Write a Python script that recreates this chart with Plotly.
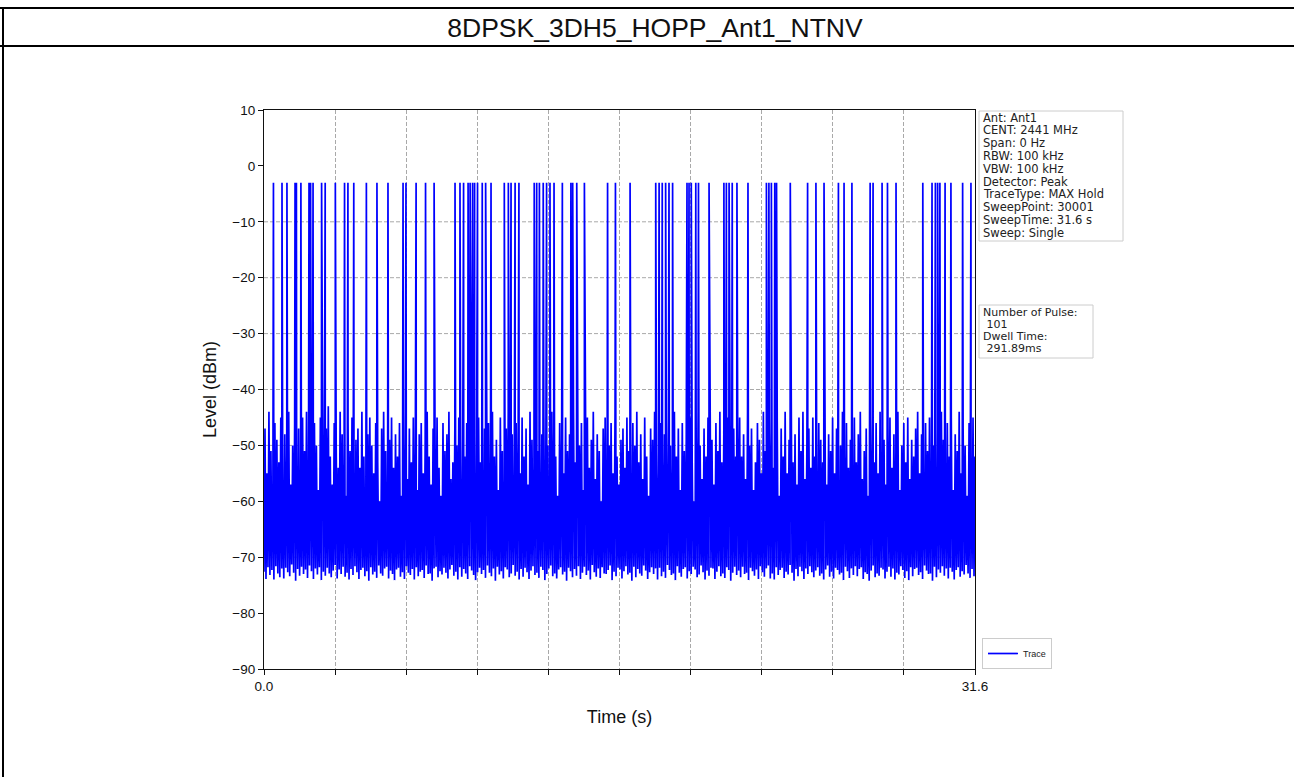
import numpy as np
import plotly.graph_objects as go

# ---------------- data ----------------
chart_title = "8DPSK_3DH5_HOPP_Ant1_NTNV"
sweep_time = 31.6

# times (s) of the hopping pulses that reach the top level
pulse_times = [0.42, 0.80, 1.02, 1.38, 1.44, 1.64, 2.00, 2.07, 2.18, 2.56,
               2.72, 3.17, 3.58, 3.73, 3.99, 4.55, 5.02, 5.51, 6.18, 6.31,
               6.76, 7.18, 7.56, 8.49, 8.71, 8.87, 9.07, 9.16, 9.27, 9.36,
               9.49, 9.70, 9.85, 10.09, 10.68, 10.86, 10.98, 11.16, 11.33, 12.01,
               12.12, 12.24, 12.41, 12.56, 12.71, 12.89, 13.26, 13.64, 13.72, 13.90,
               14.24, 15.27, 15.62, 16.27, 17.41, 17.56, 17.70, 17.85, 18.00, 18.16,
               18.80, 18.89, 18.99, 19.19, 19.31, 19.78, 20.44, 20.55, 20.67, 20.81,
               21.02, 21.51, 22.33, 22.44, 22.55, 22.70, 22.78, 23.39, 24.16, 24.53,
               24.89, 25.53, 25.78, 26.13, 26.94, 27.07, 27.47, 27.71, 28.09, 29.28,
               29.69, 29.84, 29.94, 30.04, 30.27, 30.53, 31.05, 31.42]
pulse_level = -3.0

# noise peaks (dBm) read across the sweep
noise_high = [
    -47, -55, -44, -51, -58, -46, -49, -53, -45, -60, -48, -52, -44, -57, -50, -46, -54, -47, -59, -45,
    -51, -44, -56, -48, -53, -46, -50, -58, -45, -49, -55, -47, -43, -52, -57, -46, -50, -54, -44, -48,
    -53, -59, -46, -51, -45, -56, -49, -47, -54, -44, -52, -58, -48, -45, -50, -55, -46, -53, -60, -47,
    -44, -51, -57, -49, -45, -54, -48, -52, -46, -59, -50, -44, -56, -47, -53, -45, -51, -58, -48, -46,
    -55, -49, -44, -52, -57, -47, -50, -45, -54, -59, -46, -51, -48, -44, -56, -53, -47, -50, -45, -58,
    -49, -52, -46, -55, -44, -51, -57, -48, -45, -53, -60, -47, -50, -46, -54, -44, -52, -49, -58, -45,
    -51, -56, -47, -44, -53, -48, -59, -46, -50, -55, -45, -52, -47, -57, -44, -49, -54, -46, -51, -58,
    -48, -45, -53, -50, -56, -44, -47, -52, -59, -46, -49, -55, -45, -51, -48, -57, -44, -53, -47, -50,
    -46, -58, -52, -45, -54, -49, -44, -56, -48, -51, -60, -47, -45, -53, -50, -46, -55, -44, -52, -57,
    -49, -47, -54, -45, -51, -58, -46, -50, -44, -53, -48, -56, -45, -52, -59, -47, -49, -44, -55, -51,
    -46, -53, -48, -57, -45, -50, -54, -44, -52, -47, -58, -46, -51, -49, -55, -45, -53, -60, -48, -44,
    -50, -56, -47, -52, -45, -54, -49, -57, -46, -51, -44, -53, -48, -59, -45, -50, -55, -47, -52, -46,
    -45, -52, -48, -56, -44, -50, -47, -58, -53, -46, -49, -55, -44, -51, -57, -48, -45, -54, -50, -46,
    -59, -47, -52, -44, -55, -49, -46, -53, -48, -57, -45, -51, -44, -56, -50, -47, -54, -45, -52, -58,
    -46, -49, -53, -44, -57, -48, -51, -45, -55, -47, -60, -50, -44, -52, -46, -54, -49, -58, -45, -53,
    -48, -44, -56, -51, -47, -59, -45, -50, -53, -46, -55, -44, -52, -49, -57, -47, -45, -54, -48, -51,
    -44, -58, -50, -46, -53, -45, -56, -49, -52, -47, -44, -55, -48, -60, -46, -51, -45, -54, -50, -57,
    -47, -53, -44, -49, -56, -46, -52, -45, -58, -48, -51, -44, -55, -47, -50, -59, -46, -53, -45, -52]

# noise floor minima (dBm) read across the sweep
noise_low = [
    -72.6, -73.9, -71.8, -73.2, -72.3, -74.0, -71.6, -72.9, -73.6, -72.0, -73.8, -71.9, -72.7, -73.4, -71.3, -72.8, -74.2, -72.1, -73.3, -71.7,
    -73.0, -72.2, -73.7, -71.5, -72.5, -73.9, -72.0, -73.1, -71.8, -74.1, -72.6, -73.3, -71.9, -72.9, -73.6, -72.4, -71.4, -73.8, -72.2, -73.0,
    -71.7, -73.5, -72.8, -74.0, -72.1, -73.2, -71.6, -72.7, -73.9, -72.3, -71.9, -73.4, -72.5, -74.2, -71.8, -73.1, -72.6, -73.7, -71.5, -72.9,
    -73.3, -72.0, -71.7, -73.8, -72.4, -73.0, -74.1, -72.2, -71.9, -73.5, -72.7, -73.9, -71.6, -72.8, -73.2, -72.1, -74.0, -71.8, -73.4, -72.6,
    -72.3, -73.7, -71.5, -73.0, -72.9, -74.2, -72.0, -71.7, -73.6, -72.5, -73.1, -71.9, -72.8, -73.8, -72.2, -71.4, -73.3, -72.6, -74.0, -71.8,
    -73.5, -72.1, -72.9, -73.9, -71.6, -72.4, -73.2, -74.1, -72.7, -71.9, -73.0, -72.3, -73.7, -71.5, -72.8, -73.4, -72.0, -74.2, -71.7, -73.1,
    -72.5, -73.8, -71.8, -72.2, -73.6, -72.9, -71.4, -73.3, -72.6, -74.0, -72.1, -73.5, -71.9, -72.7, -73.9, -72.4, -71.6, -73.2, -72.8, -73.7,
    -71.7, -72.3, -74.1, -73.0, -72.0, -71.5, -73.4, -72.9, -73.8, -72.2, -71.8, -73.1, -72.6, -74.2, -71.9, -72.5, -73.6, -72.1, -73.3, -71.6,
    -73.9, -72.8, -71.7, -73.2, -72.4, -74.0, -71.4, -72.7, -73.5, -72.0, -73.7, -71.8, -72.9, -73.0, -72.3, -71.5, -74.1, -72.6, -73.4, -71.9,
    -72.2, -73.8, -72.5, -71.6, -73.1, -72.8, -74.2, -71.7, -73.6, -72.1, -72.9, -73.3, -71.5, -72.4, -73.9, -72.7, -71.8, -73.0, -72.0, -74.0,
    -71.9, -73.4, -72.6, -73.7, -71.4, -72.3, -73.2, -72.9, -74.1, -71.6, -72.8, -73.5, -72.1, -71.8, -73.8, -72.5, -73.0, -71.7, -72.2, -73.6,
    -73.1, -71.5, -72.7, -74.0, -72.4, -73.3, -71.9, -72.0, -73.9, -72.6, -71.6, -73.4, -72.9, -73.7, -71.8, -72.3, -74.2, -72.8, -71.7, -73.2,
    -72.4, -73.6, -71.7, -73.0, -72.8, -74.1, -71.9, -72.5, -73.3, -72.2, -73.9, -71.6, -72.7, -73.5, -72.0, -71.5, -73.8, -72.9, -74.0, -71.8,
    -73.2, -72.3, -71.9, -73.7, -72.6, -73.1, -71.4, -72.8, -74.2, -72.1, -73.4, -71.7, -72.5, -73.9, -72.0, -73.0, -71.6, -72.7, -73.6, -72.4,
    -71.8, -73.3, -72.9, -74.0, -72.2, -71.5, -73.5, -72.6, -73.8, -71.9, -72.3, -73.1, -72.8, -74.1, -71.7, -72.5, -73.7, -72.0, -73.2, -71.6,
    -73.4, -72.1, -71.8, -73.9, -72.7, -73.0, -74.2, -72.4, -71.5, -73.6, -72.9, -73.3, -71.9, -72.2, -73.8, -72.6, -71.7, -73.5, -72.0, -74.0,
    -72.8, -73.1, -71.6, -72.3, -73.7, -72.5, -74.1, -71.8, -73.4, -72.1, -71.9, -73.2, -72.7, -73.9, -71.5, -72.4, -73.0, -72.9, -74.2, -71.7,
    -73.6, -72.2, -72.8, -71.6, -73.3, -72.0, -73.8, -71.9, -72.6, -74.0, -72.3, -71.8, -73.5, -72.5, -73.1, -71.4, -72.9, -73.7, -72.1, -73.4]

x_tick_labels = ["0.0", "", "", "", "", "", "", "", "", "", "31.6"]
y_ticks = [10, 0, -10, -20, -30, -40, -50, -60, -70, -80, -90]
h_grid_levels = [-10, -20, -30, -40, -50, -60, -70]

info_lines = ["Ant: Ant1", "CENT: 2441 MHz", "Span: 0 Hz", "RBW: 100 kHz", "VBW: 100 kHz",
              "Detector: Peak", "TraceType: MAX Hold", "SweepPoint: 30001",
              "SweepTime: 31.6 s", "Sweep: Single"]
pulse_info_lines = ["Number of Pulse:", " 101", "Dwell Time:", " 291.89ms"]

# ---------------- build trace ----------------
n_noise = len(noise_high) + len(noise_low)
noise_t = np.linspace(0, sweep_time, n_noise)
noise_y = np.empty(n_noise)
noise_y[0::2] = noise_low
noise_y[1::2] = noise_high

all_t = np.concatenate([noise_t, np.array(pulse_times)])
all_y = np.concatenate([noise_y, np.full(len(pulse_times), pulse_level)])
order = np.argsort(all_t, kind="stable")
all_t = all_t[order]
all_y = all_y[order]

# ---------------- layout helpers ----------------
W_PX, H_PX = 1294, 777
L, R, T, B = 264, 975, 110, 669


def px2x(px):
    return (px - L) / (R - L)


def py2y(py):
    return (B - py) / (B - T)


FONT = "Liberation Sans, Arial, sans-serif"
BOXFONT = "DejaVu Sans, Liberation Sans, sans-serif"
GRID = "#a9a9a9"

fig = go.Figure()
fig.add_trace(go.Scatter(x=all_t, y=all_y, mode="lines", name="Trace",
                         line=dict(color="#0000ff", width=1.7)))

x_tick_vals = list(np.linspace(0, sweep_time, len(x_tick_labels)))

fig.update_layout(
    width=W_PX, height=H_PX,
    margin=dict(l=L, r=W_PX - R, t=T, b=H_PX - B, pad=0),
    paper_bgcolor="white", plot_bgcolor="white",
    font=dict(family=FONT, color="#222222"),
    title=dict(text=chart_title, x=655 / W_PX, xanchor="center",
               y=1 - 28 / H_PX, yanchor="middle",
               font=dict(size=26.5, family=FONT, color="#111111")),
    showlegend=True,
    legend=dict(x=px2x(982), y=py2y(669), xanchor="left", yanchor="bottom",
                bgcolor="white", bordercolor="#cccccc", borderwidth=1,
                font=dict(size=9, family=FONT, color="#222222"),
                itemwidth=30, tracegroupgap=0),
    xaxis=dict(range=[0, sweep_time], tickvals=x_tick_vals, ticktext=x_tick_labels,
               showgrid=True, gridcolor=GRID, griddash="4px,2px", gridwidth=1,
               showline=True, linecolor="#111111", linewidth=1.2, mirror=True,
               ticks="outside", ticklen=5, tickcolor="#111111",
               tickfont=dict(size=13.5, family=FONT, color="#111111"),
               zeroline=False,
               title=dict(text="Time (s)", standoff=17,
                          font=dict(size=18, family=FONT, color="#111111"))),
    yaxis=dict(range=[-90, 10], tickvals=y_ticks,
               showgrid=False,
               showline=True, linecolor="#111111", linewidth=1.2, mirror=True,
               ticks="outside", ticklen=5, tickcolor="#111111",
               tickfont=dict(size=13.5, family=FONT, color="#111111"),
               zeroline=False,
               title=dict(text="Level (dBm)", standoff=10,
                          font=dict(size=18, family=FONT, color="#111111"))),
)

shapes = []
# horizontal dashed grid lines
for lvl in h_grid_levels:
    shapes.append(dict(type="line", xref="x", yref="y", x0=0, x1=sweep_time,
                       y0=lvl, y1=lvl, layer="below",
                       line=dict(color=GRID, width=1, dash="4px,2px")))
# header frame lines
shapes.append(dict(type="line", xref="paper", yref="paper",
                   x0=px2x(0), x1=px2x(W_PX), y0=py2y(8), y1=py2y(8),
                   line=dict(color="black", width=2)))
shapes.append(dict(type="line", xref="paper", yref="paper",
                   x0=px2x(0), x1=px2x(W_PX), y0=py2y(46), y1=py2y(46),
                   line=dict(color="black", width=2)))
shapes.append(dict(type="line", xref="paper", yref="paper",
                   x0=px2x(3), x1=px2x(3), y0=py2y(8), y1=py2y(W_PX),
                   line=dict(color="black", width=2)))
# info boxes
shapes.append(dict(type="rect", xref="paper", yref="paper",
                   x0=px2x(979), x1=px2x(1123), y0=py2y(111), y1=py2y(241),
                   line=dict(color="#cccccc", width=1), fillcolor="white"))
shapes.append(dict(type="rect", xref="paper", yref="paper",
                   x0=px2x(979), x1=px2x(1093), y0=py2y(305), y1=py2y(358),
                   line=dict(color="#cccccc", width=1), fillcolor="white"))

annotations = []
for i, txt in enumerate(info_lines):
    annotations.append(dict(text=txt, xref="paper", yref="paper",
                            x=px2x(981), y=py2y(117.5 + i * 12.8),
                            xanchor="left", yanchor="middle", showarrow=False,
                            font=dict(size=11.5, family=BOXFONT, color="#222222")))
for i, txt in enumerate(pulse_info_lines):
    annotations.append(dict(text=txt.replace(" ", "&nbsp;"), xref="paper", yref="paper",
                            x=px2x(981), y=py2y(312 + i * 12.2),
                            xanchor="left", yanchor="middle", showarrow=False,
                            font=dict(size=11, family=BOXFONT, color="#222222")))

fig.update_layout(shapes=shapes, annotations=annotations)

fig.write_html("out.html", config={"displayModeBar": False},
               post_script="document.body.style.margin='0px';")
